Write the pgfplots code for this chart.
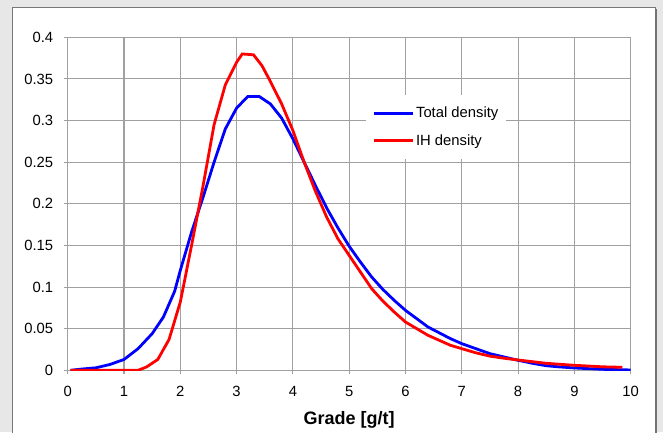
\documentclass[border=0pt]{standalone}
\usepackage{fontspec}
\setmainfont{Liberation Sans}
\usepackage{pgfplots}
\pgfplotsset{compat=1.18}
\definecolor{bggray}{RGB}{231,231,232}
\definecolor{gridgray}{RGB}{160,160,160}
\definecolor{framegray}{RGB}{120,120,120}
\begin{document}
\begin{tikzpicture}[x=1pt,y=1pt]
\useasboundingbox (0,0) rectangle (663,432);
\fill[bggray] (0,0) rectangle (663,432);
\fill[white] (12,0) rectangle (655,424);
\draw[framegray, line width=1pt] (12,-2) -- (12,424) -- (655,424) -- (655,-2);
\draw[black!55, line width=1.5pt] (656.2,-2) -- (656.2,423);
\begin{axis}[
  at={(67.7pt,61.7pt)}, anchor=south west,
  scale only axis, width=563pt, height=333pt,
  xmin=0, xmax=10, ymin=0, ymax=0.4,
  xtick={0,1,2,3,4,5,6,7,8,9,10},
  ytick={0,0.05,0.1,0.15,0.2,0.25,0.3,0.35,0.4},
  scaled y ticks=false,
  yticklabel style={/pgf/number format/fixed,/pgf/number format/precision=2, xshift=-7pt},
  xticklabel style={yshift=-8pt},
  /pgf/number format/assume math mode=true,
  ticklabel style={font=\fontsize{14.8}{16}\selectfont, text=black},
  grid=major,
  major grid style={draw=gridgray, line width=1.1pt},
  axis line style={draw=gridgray, line width=1.1pt},
  tick style={draw=gridgray, line width=1.1pt},
  tick align=outside, major tick length=4pt,
  xtick pos=bottom, ytick pos=left,
  xlabel={\bfseries Grade [g/t]},
  xlabel style={font=\fontsize{18}{20}\selectfont, anchor=base, at={(axis description cs:0.5,-0.1613)}},
  legend style={at={(axis description cs:0.530,0.8267)}, anchor=north west,
    draw=none, fill=white, font=\fontsize{14.8}{16}\selectfont,
    inner xsep=6pt, inner ysep=10pt, row sep=11pt},
  legend cell align=left,
  legend image code/.code={\draw[#1] (0pt,0pt) -- (39pt,0pt);},
]
\addplot[blue, line width=2.8pt] coordinates {
(0.05,0.0) (0.25,0.0015) (0.5,0.003) (0.75,0.007) (1.0,0.013) (1.25,0.026)
(1.5,0.044) (1.7,0.064) (1.9,0.095) (2.0,0.120) (2.2,0.166) (2.4,0.207)
(2.6,0.250) (2.8,0.290) (3.0,0.315) (3.2,0.329) (3.4,0.329) (3.6,0.320)
(3.8,0.303) (4.0,0.278) (4.2,0.250) (4.4,0.222) (4.6,0.195) (4.8,0.171)
(5.0,0.149) (5.2,0.130) (5.4,0.112) (5.6,0.097) (5.8,0.084) (6.0,0.072)
(6.2,0.062) (6.4,0.052) (6.6,0.045) (6.8,0.038) (7.0,0.032) (7.25,0.026)
(7.5,0.020) (7.75,0.016) (8.0,0.012) (8.25,0.0085) (8.5,0.0055) (8.75,0.004)
(9.0,0.0028) (9.5,0.0012) (10.0,0.0004)
};
\addlegendentry{Total density}
\addplot[red, line width=2.8pt] coordinates {
(0.05,0) (1.25,0) (1.4,0.004) (1.6,0.013) (1.8,0.037) (2.0,0.082)
(2.2,0.150) (2.4,0.220) (2.6,0.295) (2.8,0.343) (3.0,0.370) (3.1,0.380)
(3.3,0.379) (3.45,0.366) (3.6,0.347) (3.8,0.320) (4.0,0.288) (4.2,0.250)
(4.4,0.215) (4.6,0.184) (4.8,0.158) (5.0,0.138) (5.2,0.118) (5.4,0.098)
(5.6,0.083) (5.8,0.070) (6.0,0.058) (6.2,0.050) (6.4,0.042) (6.6,0.036)
(6.8,0.030) (7.0,0.026) (7.25,0.021) (7.5,0.017) (7.75,0.0145) (8.0,0.0124)
(8.5,0.0084) (9.0,0.006) (9.5,0.0042) (9.85,0.0036)
};
\addlegendentry{IH density}
\end{axis}
\end{tikzpicture}
\end{document}
